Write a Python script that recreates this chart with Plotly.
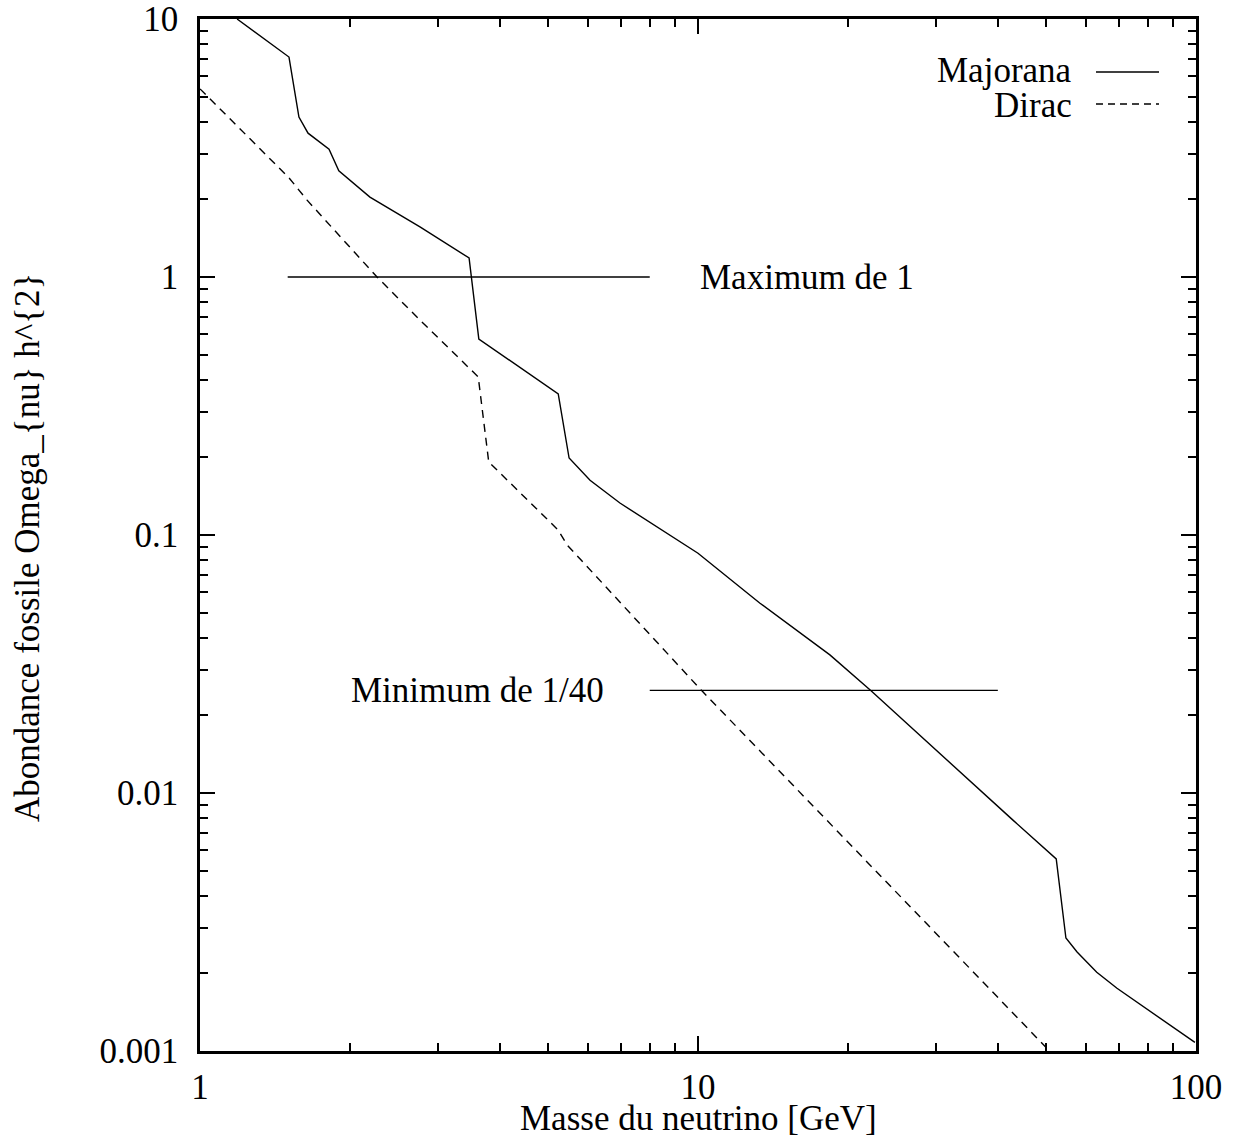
import plotly.graph_objects as go

# Data
majorana_x = [1.187, 1.509, 1.58, 1.648, 1.816, 1.90, 2.194, 2.765, 3.47, 3.63, 5.24, 5.51, 6.07, 6.97,
              10.0, 13.3, 18.4, 22.2, 42.9, 52.4, 54.8, 57.7, 63.2, 69.4, 99.5]
majorana_y = [10, 7.12, 4.17, 3.61, 3.13, 2.58, 2.04, 1.563, 1.185, 0.575, 0.352, 0.1988, 0.163, 0.133,
              0.085, 0.0545, 0.0343, 0.025, 0.00785, 0.00555, 0.00274, 0.00242, 0.00202, 0.00175, 0.00108]

dirac_x = [1.0, 1.51, 1.639, 2.267, 2.765, 3.62, 3.80, 4.95, 5.24, 5.46, 10.16, 60]
dirac_y = [5.36, 2.42, 1.99, 1.0, 0.681, 0.410, 0.192, 0.1164, 0.1045, 0.0915, 0.025, 0.000717]

max_line_x = [1.5, 8.0]
max_line_y = [1.0, 1.0]
min_line_x = [8.0, 40.0]
min_line_y = [0.025, 0.025]

x_tickvals = [1, 10, 100]
x_ticktext = ["1", "10", "100"]
y_tickvals = [10, 1, 0.1, 0.01, 0.001]
y_ticktext = ["10", "1", "0.1", "0.01", "0.001"]

minor_x = [m * d for d in (1, 10) for m in range(2, 10)]
minor_y = [m * d for d in (0.001, 0.01, 0.1, 1) for m in range(2, 10)]

FONT = "Liberation Serif"
FS = 35

fig = go.Figure()
fig.add_trace(go.Scatter(x=majorana_x, y=majorana_y, mode="lines",
                         line=dict(color="black", width=1.4), showlegend=False))
fig.add_trace(go.Scatter(x=dirac_x, y=dirac_y, mode="lines",
                         line=dict(color="black", width=1.4, dash="8px,6px"), showlegend=False))
fig.add_trace(go.Scatter(x=max_line_x, y=max_line_y, mode="lines",
                         line=dict(color="black", width=1.4), showlegend=False))
fig.add_trace(go.Scatter(x=min_line_x, y=min_line_y, mode="lines",
                         line=dict(color="black", width=1.4), showlegend=False))

L, R, T, B = 200, 37, 19, 92
PW, PH = 1233 - L - R, 1143 - T - B


def px(xp):
    return (xp - L) / PW


def py(yp):
    return (T + PH - yp) / PH


annotations = [
    dict(text="Maximum de 1", x=1, y=0, xref="x", yref="y", xanchor="left", yanchor="middle",
         showarrow=False, font=dict(family=FONT, size=FS, color="black")),
    dict(text="Minimum de 1/40", x=0.8156, y=-1.602, xref="x", yref="y", xanchor="right", yanchor="middle",
         showarrow=False, font=dict(family=FONT, size=FS, color="black")),
    dict(text="Majorana", x=px(1074), y=py(71), xref="paper", yref="paper", xanchor="right",
         yanchor="middle", showarrow=False, font=dict(family=FONT, size=FS, color="black")),
    dict(text="Dirac", x=px(1074), y=py(105), xref="paper", yref="paper", xanchor="right",
         yanchor="middle", showarrow=False, font=dict(family=FONT, size=FS, color="black")),
    dict(text="Abondance fossile Omega_{nu} h^{2}", x=px(27), y=py(548), xref="paper", yref="paper",
         xanchor="center", yanchor="middle", textangle=-90, showarrow=False,
         font=dict(family=FONT, size=FS, color="black")),
    dict(text="Masse du neutrino [GeV]", x=0.5, y=py(1118), xref="paper", yref="paper",
         xanchor="center", yanchor="middle", showarrow=False,
         font=dict(family=FONT, size=FS, color="black")),
]

shapes = [
    dict(type="line", xref="paper", yref="paper", x0=px(1096), x1=px(1159), y0=py(72), y1=py(72),
         line=dict(color="black", width=1.4)),
    dict(type="line", xref="paper", yref="paper", x0=px(1096), x1=px(1159), y0=py(104), y1=py(104),
         line=dict(color="black", width=1.4, dash="7px,5px")),
]

axis_common = dict(
    showgrid=False, zeroline=False, showline=True, linecolor="black", linewidth=2.5,
    mirror="allticks", ticks="inside", ticklen=15, tickwidth=2, tickcolor="black",
    tickfont=dict(family=FONT, size=FS, color="black"),
)

fig.update_xaxes(type="log", range=[0, 2], tickvals=x_tickvals, ticktext=x_ticktext,
                 ticklabelstandoff=3,
                 minor=dict(tickvals=minor_x, ticks="inside", ticklen=8, tickwidth=2, tickcolor="black",
                            showgrid=False),
                 **axis_common)
fig.update_yaxes(type="log", range=[-3, 1], tickvals=y_tickvals, ticktext=y_ticktext,
                 ticklabelstandoff=12,
                 minor=dict(tickvals=minor_y, ticks="inside", ticklen=8, tickwidth=2, tickcolor="black",
                            showgrid=False),
                 **axis_common)

fig.update_layout(
    width=1233, height=1143,
    margin=dict(l=L, r=R, t=T, b=B, autoexpand=False),
    paper_bgcolor="white", plot_bgcolor="white",
    annotations=annotations, shapes=shapes, showlegend=False,
)

fig.write_html("out.html")
